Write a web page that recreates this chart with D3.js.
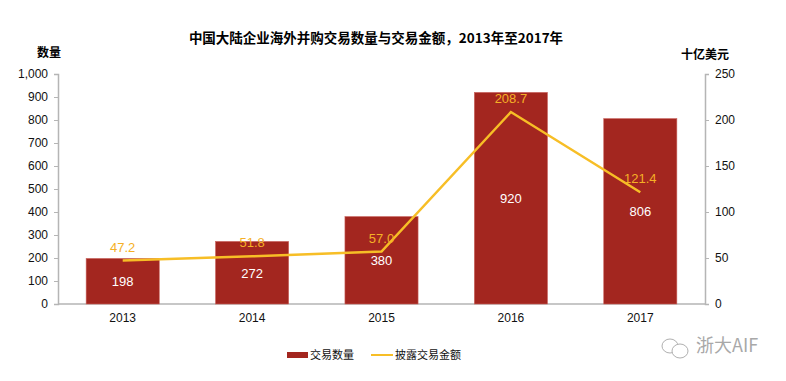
<!DOCTYPE html>
<html>
<head>
<meta charset="utf-8">
<script src="https://cdn.jsdelivr.net/npm/d3@7"></script>
<style>
  body { margin: 0; background: #fff; }
  svg { display: block; font-family: "Liberation Sans", Arial, "Noto Sans CJK SC", sans-serif; }
</style>
</head>
<body>
<svg id="chart"></svg>
<script>
const years = ['2013', '2014', '2015', '2016', '2017'];
const dealCounts = [198, 272, 380, 920, 806];
const dealValues = [47.2, 51.8, 57.0, 208.7, 121.4];
const countTicks = [0, 100, 200, 300, 400, 500, 600, 700, 800, 900, 1000];
const valueTicks = [0, 50, 100, 150, 200, 250];

const width = 786;
const height = 381;
const plotLeft = 58;
const plotRight = 705;
const plotTop = 74;
const plotBottom = 304;

const barColor = '#a3261f';
const lineColor = '#f7be26';
const labelColor = '#f5b026';
const axisColor = '#b5b5b5';
const cjk = '"Noto Sans CJK SC", sans-serif';

const svg = d3.select('#chart')
  .attr('width', width)
  .attr('height', height);

const x = d3.scaleBand()
  .domain(years)
  .range([plotLeft, plotRight])
  .paddingInner(0.435)
  .paddingOuter(0.2175);

const yCount = d3.scaleLinear().domain([0, 1000]).range([plotBottom, plotTop]);
const yValue = d3.scaleLinear().domain([0, 250]).range([plotBottom, plotTop]);

// title
svg.append('text')
  .attr('x', 376)
  .attr('y', 43)
  .attr('text-anchor', 'middle')
  .style('font-family', cjk)
  .style('font-weight', 'bold')
  .style('font-size', '13.5px')
  .text('中国大陆企业海外并购交易数量与交易金额，2013年至2017年');

svg.append('text')
  .attr('x', 49)
  .attr('y', 57)
  .attr('text-anchor', 'middle')
  .style('font-family', cjk)
  .style('font-weight', 'bold')
  .style('font-size', '12px')
  .text('数量');

svg.append('text')
  .attr('x', 705)
  .attr('y', 59)
  .attr('text-anchor', 'middle')
  .style('font-family', cjk)
  .style('font-weight', 'bold')
  .style('font-size', '12px')
  .text('十亿美元');

// axes
const leftAxis = svg.append('g')
  .attr('transform', `translate(${plotLeft},0)`)
  .call(d3.axisLeft(yCount).tickValues(countTicks).tickFormat(d3.format(',')).tickSize(4).tickPadding(6));

const rightAxis = svg.append('g')
  .attr('transform', `translate(${plotRight},0)`)
  .call(d3.axisRight(yValue).tickValues(valueTicks).tickSize(4).tickPadding(6));

[leftAxis, rightAxis].forEach(g => {
  g.select('.domain').attr('stroke', axisColor).attr('stroke-width', 1.5);
  g.selectAll('.tick line').attr('stroke', axisColor);
  g.selectAll('.tick text').style('font-size', '12px').attr('fill', '#111');
});

svg.append('line')
  .attr('x1', plotLeft)
  .attr('x2', plotRight)
  .attr('y1', plotBottom)
  .attr('y2', plotBottom)
  .attr('stroke', axisColor)
  .attr('stroke-width', 1.5);

svg.append('g')
  .selectAll('text')
  .data(years)
  .enter()
  .append('text')
  .attr('x', d => x(d) + x.bandwidth() / 2)
  .attr('y', 322)
  .attr('text-anchor', 'middle')
  .style('font-size', '12px')
  .attr('fill', '#111')
  .text(d => d);

// bars
svg.append('g')
  .selectAll('rect')
  .data(dealCounts)
  .enter()
  .append('rect')
  .attr('x', (d, i) => x(years[i]))
  .attr('y', d => yCount(d))
  .attr('width', x.bandwidth())
  .attr('height', d => plotBottom - yCount(d))
  .attr('fill', barColor)
  .attr('stroke', '#c9635d')
  .attr('stroke-width', 0.6);

svg.append('g')
  .selectAll('text')
  .data(dealCounts)
  .enter()
  .append('text')
  .attr('x', (d, i) => x(years[i]) + x.bandwidth() / 2)
  .attr('y', d => (yCount(d) + plotBottom) / 2 + 5)
  .attr('text-anchor', 'middle')
  .style('font-size', '13px')
  .attr('fill', '#fff')
  .text(d => d);

// line
const line = d3.line()
  .x((d, i) => x(years[i]) + x.bandwidth() / 2)
  .y(d => yValue(d));

svg.append('path')
  .datum(dealValues)
  .attr('d', line)
  .attr('fill', 'none')
  .attr('stroke', lineColor)
  .attr('stroke-width', 2.5);

svg.append('g')
  .selectAll('text')
  .data(dealValues)
  .enter()
  .append('text')
  .attr('x', (d, i) => x(years[i]) + x.bandwidth() / 2)
  .attr('y', d => yValue(d) - 9)
  .attr('text-anchor', 'middle')
  .style('font-size', '13px')
  .attr('fill', labelColor)
  .text(d => d.toFixed(1));

// legend
svg.append('rect')
  .attr('x', 287)
  .attr('y', 352)
  .attr('width', 21)
  .attr('height', 6)
  .attr('fill', barColor);

svg.append('text')
  .attr('x', 310)
  .attr('y', 359)
  .style('font-family', cjk)
  .style('font-size', '11px')
  .attr('fill', '#111')
  .text('交易数量');

svg.append('line')
  .attr('x1', 371)
  .attr('x2', 393)
  .attr('y1', 355)
  .attr('y2', 355)
  .attr('stroke', lineColor)
  .attr('stroke-width', 2);

svg.append('text')
  .attr('x', 395)
  .attr('y', 359)
  .style('font-family', cjk)
  .style('font-size', '11px')
  .attr('fill', '#111')
  .text('披露交易金额');

// watermark
const mark = svg.append('g')
  .attr('fill', 'none')
  .attr('stroke', '#b0b0b0')
  .attr('stroke-width', 1);
mark.append('ellipse').attr('cx', 670).attr('cy', 346).attr('rx', 8).attr('ry', 7);
mark.append('ellipse').attr('cx', 680).attr('cy', 351).attr('rx', 8).attr('ry', 7).attr('fill', '#fff');

svg.append('text')
  .attr('x', 696)
  .attr('y', 352)
  .style('font-family', cjk)
  .style('font-size', '18px')
  .attr('fill', '#a8a8a8')
  .text('浙大AIF');
</script>
</body>
</html>
